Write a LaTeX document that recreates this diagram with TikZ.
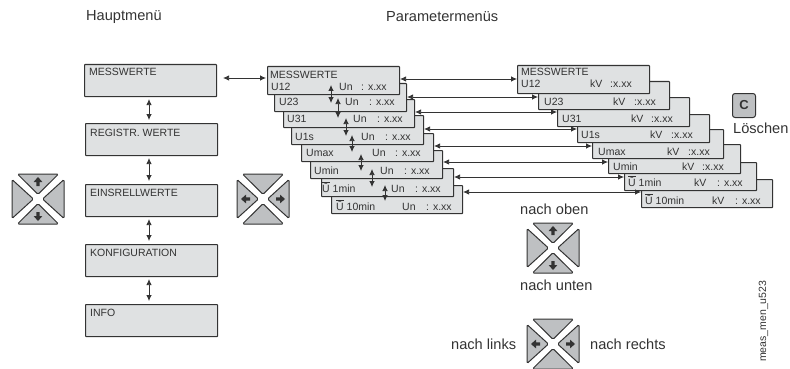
\documentclass[tikz,border=0pt]{standalone}
\usepackage{fontspec}
\setmainfont{Liberation Sans}
\usetikzlibrary{arrows.meta}
\definecolor{ink}{HTML}{333333}
\definecolor{boxfill}{HTML}{DFE1E2}
\definecolor{padfill}{HTML}{BEC0C2}
\tikzset{
  panel/.style={draw=ink,fill=boxfill,line width=1.1pt,rounded corners=.6pt,inner sep=0pt,anchor=north west},
  txt/.style={text=ink,inner sep=0pt,anchor=base west,font=\fontsize{10.5}{12}\selectfont},
  capt/.style={text=ink,inner sep=0pt,anchor=base west,font=\fontsize{14.6}{16}\selectfont},
  link/.style={draw=ink,line width=.75pt,{Latex[length=6pt,width=5.5pt]}-{Latex[length=6pt,width=5.5pt]}},
  mainlink/.style={link,shorten <=2pt,shorten >=3pt},
  tri/.style={draw=ink,fill=padfill,line width=1pt,rounded corners=1.4pt},
  tipblock/.style={fill=ink,draw=none}
}
\newcommand{\panelbox}[5]{\node[panel,minimum width=#4pt-#2pt,minimum height=#5pt-#3pt] (#1) at (#2,-#3) {};}
\newcommand{\lab}[3]{\node[txt] at (#1,-#2) {#3};}
\newcommand{\Ubar}{\rlap{\rule[8.8pt]{7.4pt}{.8pt}}Ū}
\newcommand{\blockup}{(0,-22) -- (4.4,-17) -- (1.6,-17) -- (1.6,-13) -- (-1.6,-13) -- (-1.6,-17) -- (-4.4,-17) -- cycle}
\newcommand{\padbase}[2]{%
  \begin{scope}[shift={(#1,-#2)}]
    \draw[tri] (0,-4.6) -- (-20.5,-25) -- (20.5,-25) -- cycle;
    \draw[tri] (0,4.6) -- (-20.5,25) -- (20.5,25) -- cycle;
    \draw[tri] (-4.6,0) -- (-26,-19.5) -- (-26,19.5) -- cycle;
    \draw[tri] (4.6,0) -- (26,-19.5) -- (26,19.5) -- cycle;
  \end{scope}}
\begin{document}
\begin{tikzpicture}[x=1pt,y=1pt]
\useasboundingbox (0,0) rectangle (790,-369);
% main menu
\panelbox{a1}{84}{64}{216}{96}
\panelbox{a2}{85}{123}{217}{155}
\panelbox{a3}{85}{184}{217}{216}
\panelbox{a4}{85}{244}{217}{276}
\panelbox{a5}{85}{304}{217}{336}
\lab{89}{75}{MESSWERTE}
\lab{90}{136}{REGISTR. WERTE}
\lab{90}{196}{EINSRELLWERTE}
\lab{90}{256}{KONFIGURATION}
\lab{90}{316}{INFO}
\draw[mainlink] (a1.south -| 149,0) -- (a2.north -| 149,0);
\draw[mainlink] (a2.south -| 149,0) -- (a3.north -| 149,0);
\draw[mainlink] (a3.south -| 149,0) -- (a4.north -| 149,0);
\draw[mainlink] (a4.south -| 149,0) -- (a5.north -| 149,0);
% right stack (back to front)
\panelbox{r8}{641}{179}{772}{207}
\panelbox{r7}{624}{162}{756}{190}
\panelbox{r6}{608}{144}{740}{173}
\panelbox{r5}{592}{129}{723}{158}
\panelbox{r4}{577}{114}{709}{142}
\panelbox{r3}{557}{97}{689}{126}
\panelbox{r2}{538}{81}{669}{109}
\panelbox{r1}{517}{65}{649}{93}
\lab{521}{75}{MESSWERTE}
\lab{521}{88}{U12}\lab{590}{88}{kV}\lab{610}{88}{:x.xx}
\lab{544}{105}{U23}\lab{613}{105}{kV}\lab{634}{105}{:x.xx}
\lab{562}{122}{U31}\lab{631}{122}{kV}\lab{651}{122}{:x.xx}
\lab{581}{138}{U1s}\lab{650}{138}{kV}\lab{671}{138}{:x.xx}
\lab{598}{155}{Umax}\lab{667}{155}{kV}\lab{688}{155}{:x.xx}
\lab{613}{170}{Umin}\lab{682}{170}{kV}\lab{702}{170}{:x.xx}
\lab{628}{186}{\Ubar{} 1min}\lab{694}{186}{kV}\lab{717}{186}{: x.xx}
\lab{645}{204}{\Ubar{} 10min}\lab{712}{204}{kV}\lab{735}{204}{: x.xx}
% middle stack (back to front)
\panelbox{m8}{331}{185}{462}{213}
\panelbox{m7}{321}{168}{453}{196}
\panelbox{m6}{310}{150}{442}{178}
\panelbox{m5}{301}{133}{433}{161}
\panelbox{m4}{291}{115}{423}{144}
\panelbox{m3}{283}{99}{414}{127}
\panelbox{m2}{274}{83}{406}{111}
\panelbox{m1}{267}{66}{399}{94}
\lab{270}{78}{MESSWERTE}
\lab{271}{91}{U12}\lab{339}{91}{Un}\lab{361}{91}{: x.xx}
\lab{279}{106}{U23}\lab{345}{106}{Un}\lab{369}{106}{: x.xx}
\lab{287}{122}{U31}\lab{353}{122}{Un}\lab{377}{122}{: x.xx}
\lab{295}{140}{U1s}\lab{361}{140}{Un}\lab{385}{140}{: x.xx}
\lab{306}{156}{Umax}\lab{372}{156}{Un}\lab{395}{156}{: x.xx}
\lab{314}{174}{Umin}\lab{380}{174}{Un}\lab{404}{174}{: x.xx}
\lab{322}{192}{\Ubar{} 1min}\lab{391}{192}{Un}\lab{415}{192}{: x.xx}
\lab{336}{210}{\Ubar{} 10min}\lab{402}{210}{Un}\lab{426}{210}{: x.xx}
% connectors between stacks
\draw[link] ([xshift=6pt]a1.east |- 0,-78) -- ([xshift=-1pt]m1.west |- 0,-78);
\foreach \i/\y in {1/79,2/97,3/112,4/129,5/146,6/162,7/177,8/192}
  \draw[link] (m\i.east |- 0,-\y) -- (r\i.west |- 0,-\y);
% vertical links in the middle stack
\foreach \nm/\x/\ya/\yb in {v1/331/85/103,v2/338/98/118,v3/346/118/136,v4/352/135/152,v5/361/154/171,v6/372/169/187,v7/385/185/201}
  {\coordinate (\nm a) at (\x,-\ya); \coordinate (\nm b) at (\x,-\yb);
   \draw[link] (\nm a) -- (\nm b);}
% pads
\padbase{38}{199}
\padbase{263}{199}
\padbase{553}{248}
\padbase{553}{344}
\foreach \cx/\cy in {38/199,553/248}{
  \begin{scope}[shift={(\cx,-\cy)}]
    \fill[tipblock] \blockup;
    \fill[tipblock,yscale=-1] \blockup;
  \end{scope}}
\foreach \cx/\cy in {263/199,553/344}{
  \begin{scope}[shift={(\cx,-\cy)},rotate=90]
    \fill[tipblock] \blockup;
    \fill[tipblock,yscale=-1] \blockup;
  \end{scope}}
% C key
\node[draw=ink,fill=padfill,line width=1pt,rounded corners=2.5pt,anchor=north west,minimum width=23pt,minimum height=24pt,inner sep=0pt,font=\fontsize{13}{14}\selectfont\bfseries,text=ink] (ckey) at (732,-93) {C};
% captions
\node[capt] (h1) at (86,-21) {Hauptmenü};
\node[capt] (h2) at (386,-22) {Parametermenüs};
\node[capt] (loe) at (733,-133) {Löschen};
\node[capt] (up) at (520,-214) {nach oben};
\node[capt] (dn) at (520,-290) {nach unten};
\node[capt] (lf) at (451,-349) {nach links};
\node[capt] (rt) at (590,-349) {nach rechts};
\node[text=ink,inner sep=0pt,anchor=base west,rotate=90,font=\fontsize{10.5}{12}\selectfont] (ref) at (766,-362) {meas\_men\_u523};
\end{tikzpicture}
\end{document}
